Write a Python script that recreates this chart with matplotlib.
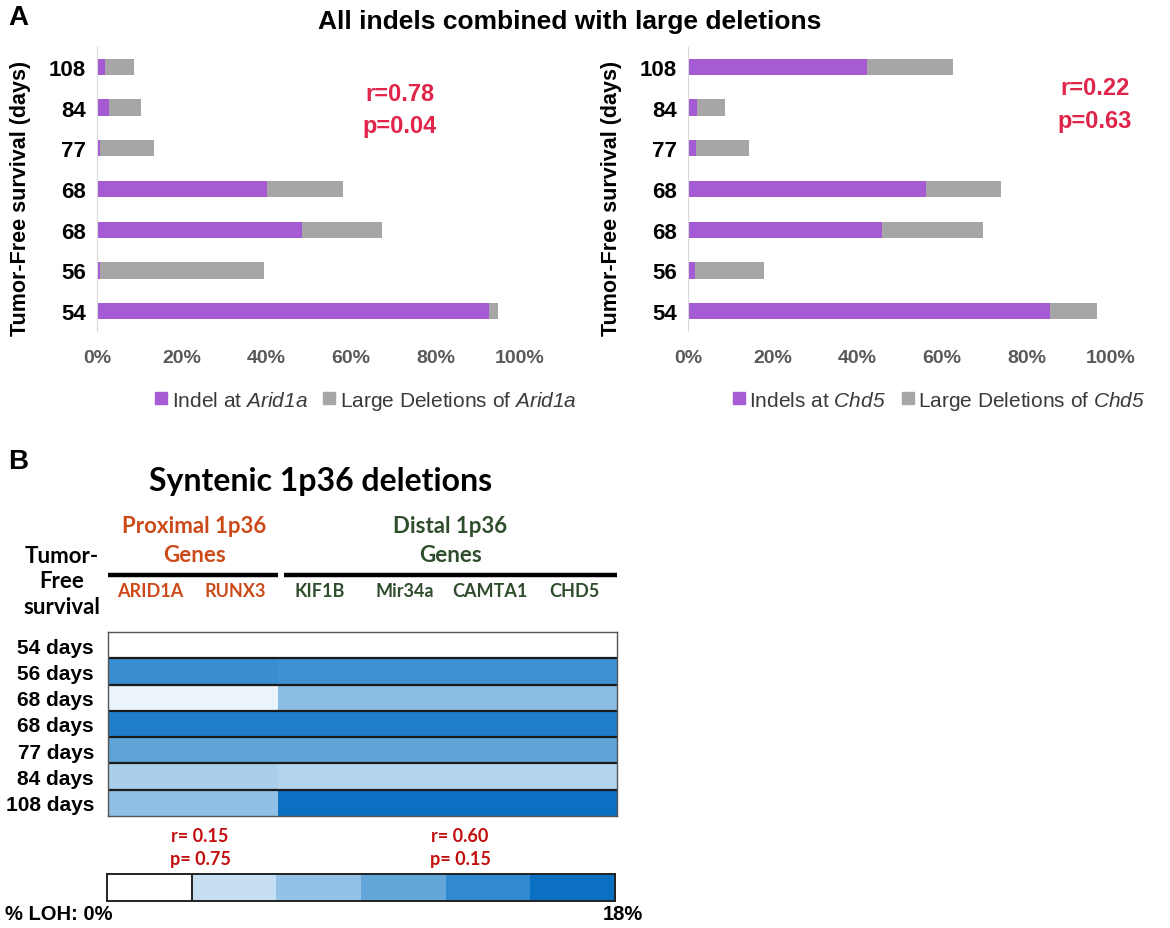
import matplotlib
matplotlib.use("Agg")
import matplotlib.pyplot as plt
from matplotlib import font_manager
from matplotlib.colors import LinearSegmentedColormap
from matplotlib.lines import Line2D
import numpy as np

# ---------------- data ----------------
survival_days = ["54", "56", "68", "68", "77", "84", "108"]  # bottom to top

arid1a_indel = [92.7, 0.8, 48.5, 40.3, 0.8, 2.9, 1.8]
arid1a_large_del = [2.0, 38.6, 18.9, 17.8, 12.6, 7.4, 6.9]
chd5_indel = [85.6, 1.7, 45.9, 56.2, 1.8, 2.1, 42.2]
chd5_large_del = [11.0, 16.3, 23.8, 17.9, 12.7, 6.7, 20.4]

x_ticks = [0, 20, 40, 60, 80, 100]

# percent LOH per tumour (rows top to bottom) for each 1p36 gene
loh_rows = ["54 days", "56 days", "68 days", "68 days", "77 days", "84 days", "108 days"]
genes = ["ARID1A", "RUNX3", "KIF1B", "Mir34a", "CAMTA1", "CHD5"]
loh_arid1a = [0.0, 13.8, 1.2, 16.0, 11.0, 5.6, 7.4]
loh_runx3 = [0.0, 13.8, 1.2, 16.0, 11.0, 5.6, 7.4]
loh_kif1b = [0.0, 13.4, 7.8, 16.0, 11.0, 5.0, 18.0]
loh_mir34a = [0.0, 13.4, 7.8, 16.0, 11.0, 5.0, 18.0]
loh_camta1 = [0.0, 13.4, 7.8, 16.0, 11.0, 5.0, 18.0]
loh_chd5 = [0.0, 13.4, 7.8, 16.0, 11.0, 5.0, 18.0]
loh_scale_levels = [0.0, 3.6, 7.2, 10.8, 14.4, 18.0]

# ---------------- fonts ----------------
available = {f.name for f in font_manager.fontManager.ttflist}
ARIAL = "Liberation Sans" if "Liberation Sans" in available else "DejaVu Sans"
NARROW = "Liberation Sans Narrow" if "Liberation Sans Narrow" in available else ARIAL
HUMAN = "Lato" if "Lato" in available else ARIAL

plt.rcParams["font.family"] = [ARIAL, "DejaVu Sans"]
# math segments are only used for italic gene names
plt.rcParams["mathtext.fontset"] = "custom"
plt.rcParams["mathtext.rm"] = NARROW + ":italic"
plt.rcParams["mathtext.it"] = NARROW + ":italic"

W, H = 1170, 929
fig = plt.figure(figsize=(W / 100, H / 100), dpi=100)


def px_axes(x0, y0, x1, y1):
    return fig.add_axes([x0 / W, 1 - y1 / H, (x1 - x0) / W, (y1 - y0) / H])


def px_text(x, y, s, **kw):
    return fig.text(x / W, 1 - y / H, s, **kw)


PURPLE = "#a55bd4"
GREY = "#a6a6a6"
RED_A = "#e0244a"


def stacked_panel(ax, indel, large, legend_labels, legend_x, rp):
    ypos = np.arange(len(survival_days))
    ax.barh(ypos, indel, height=0.4, color=PURPLE)
    ax.barh(ypos, large, left=indel, height=0.4, color=GREY)
    ax.set_xlim(0, 100)
    ax.set_ylim(-0.49, 6.49)
    ax.set_yticks(ypos)
    ax.set_yticklabels(survival_days, fontsize=16, fontweight="bold")
    ax.set_xticks(x_ticks)
    ax.set_xticklabels([f"{t}%" for t in x_ticks], fontsize=14,
                       fontweight="bold", color="#595959")
    ax.tick_params(axis="both", length=0)
    ax.tick_params(axis="x", pad=13)
    ax.tick_params(axis="y", pad=8)
    for side in ("top", "right", "bottom"):
        ax.spines[side].set_visible(False)
    ax.spines["left"].set_color("#d9d9d9")
    ax.set_ylabel("Tumor-Free survival (days)", fontsize=15.5, fontweight="bold")
    ax.yaxis.set_label_coords(-0.155, 0.47)
    handles = [Line2D([], [], marker="s", ls="", color=PURPLE, markersize=8),
               Line2D([], [], marker="s", ls="", color=GREY, markersize=8)]
    leg = ax.legend(handles, legend_labels, loc="center",
                    bbox_to_anchor=(legend_x, -0.243), ncol=2, frameon=False,
                    handlelength=0.7, handletextpad=0.15,
                    columnspacing=0.7, prop={"family": NARROW, "size": 15})
    for t in leg.get_texts():
        t.set_color("#3a3a3a")
    ax.text(rp[0], rp[1], rp[2], transform=ax.transAxes, ha="center",
            va="center", fontsize=17, fontweight="bold", color=RED_A,
            linespacing=1.55)


# ---------------- panel A ----------------
px_text(18, 18, "A", fontsize=20, fontweight="bold", ha="center", va="center")
px_text(570, 22, "All indels combined with large deletions", fontsize=19,
        fontweight="bold", ha="center", va="center")

axL = px_axes(97, 48, 520, 332)
stacked_panel(axL, arid1a_indel, arid1a_large_del,
              ["Indel at $Arid1a$", "Large Deletions of $Arid1a$"],
              0.634, (0.716, 0.78, "r=0.78\np=0.04"))

axR = px_axes(688, 48, 1111, 332)
stacked_panel(axR, chd5_indel, chd5_large_del,
              ["Indels at $Chd5$", "Large Deletions of $Chd5$"],
              0.592, (0.962, 0.80, "r=0.22\np=0.63"))

# ---------------- panel B ----------------
px_text(18, 462, "B", fontsize=20, fontweight="bold", ha="center", va="center")
px_text(321, 482, "Syntenic 1p36 deletions", fontsize=23, fontweight="bold",
        ha="center", va="center", family=HUMAN)

PROX = "#cc4a1a"
DIST = "#2f4d2c"
px_text(194, 541, "Proximal 1p36\nGenes", fontsize=16, fontweight="bold",
        color=PROX, ha="center", va="center", family=HUMAN, linespacing=1.45)
px_text(450, 541, "Distal 1p36\nGenes", fontsize=16, fontweight="bold",
        color=DIST, ha="center", va="center", family=HUMAN, linespacing=1.45)
px_text(62, 582, "Tumor-\nFree\nsurvival", fontsize=16, fontweight="bold",
        ha="center", va="center", family=HUMAN, linespacing=1.25)

cmap = LinearSegmentedColormap.from_list(
    "loh",
    [(0.0, "#ffffff"), (0.2, "#c6dff2"), (0.4, "#93c2e6"),
     (0.6, "#62a6da"), (0.8, "#3189cf"), (1.0, "#0b6fc2")])

loh = np.column_stack([loh_arid1a, loh_runx3, loh_kif1b,
                       loh_mir34a, loh_camta1, loh_chd5])

axH = px_axes(108, 633, 617, 817)
axH.pcolormesh(np.arange(len(genes) + 1), np.arange(len(loh_rows) + 1), loh,
               cmap=cmap, vmin=0, vmax=18)
axH.set_xlim(0, len(genes))
axH.set_ylim(len(loh_rows), 0)
for r in range(1, len(loh_rows)):
    axH.axhline(r, color="#1a1a1a", lw=1.6)
axH.set_yticks(np.arange(len(loh_rows)) + 0.5)
axH.set_yticklabels(loh_rows, fontsize=15, fontweight="bold")
axH.tick_params(axis="y", length=0, pad=10)
axH.set_xticks(np.arange(len(genes)) + 0.5)
axH.set_xticklabels(genes, fontsize=13, fontweight="bold", family=HUMAN)
axH.xaxis.tick_top()
axH.tick_params(axis="x", length=0, pad=24)
for i, lab in enumerate(axH.get_xticklabels()):
    lab.set_color(PROX if i < 2 else DIST)
for sp in axH.spines.values():
    sp.set_color("#555555")
    sp.set_linewidth(1.0)

# group brackets above the gene names
for (a, b) in [(0.0, 2.0), (2.07, 6.0)]:
    axH.plot([a, b], [-2.18, -2.18], color="black", lw=3.2, clip_on=False,
             solid_capstyle="butt")

# correlation annotations
px_text(200, 848, "r= 0.15\np= 0.75", fontsize=13, fontweight="bold",
        color="#c40d0d", ha="center", va="center", family=HUMAN, linespacing=1.45)
px_text(460, 848, "r= 0.60\np= 0.15", fontsize=13, fontweight="bold",
        color="#c40d0d", ha="center", va="center", family=HUMAN, linespacing=1.45)

# colour key
axC = px_axes(107, 875, 615, 902)
axC.pcolormesh(np.arange(len(loh_scale_levels) + 1), [0, 1],
               np.array([loh_scale_levels]), cmap=cmap, vmin=0, vmax=18)
axC.axvline(1, color="#222222", lw=1.4)
axC.set_xlim(0, len(loh_scale_levels))
axC.set_ylim(0, 1)
axC.set_xticks([])
axC.set_yticks([])
for sp in axC.spines.values():
    sp.set_color("#222222")
    sp.set_linewidth(1.4)

px_text(5, 915, "% LOH: 0%", fontsize=14.5, fontweight="bold", ha="left",
        va="center")
px_text(643, 915, "18%", fontsize=14.5, fontweight="bold", ha="right",
        va="center")

fig.savefig("out.png", dpi=100)
